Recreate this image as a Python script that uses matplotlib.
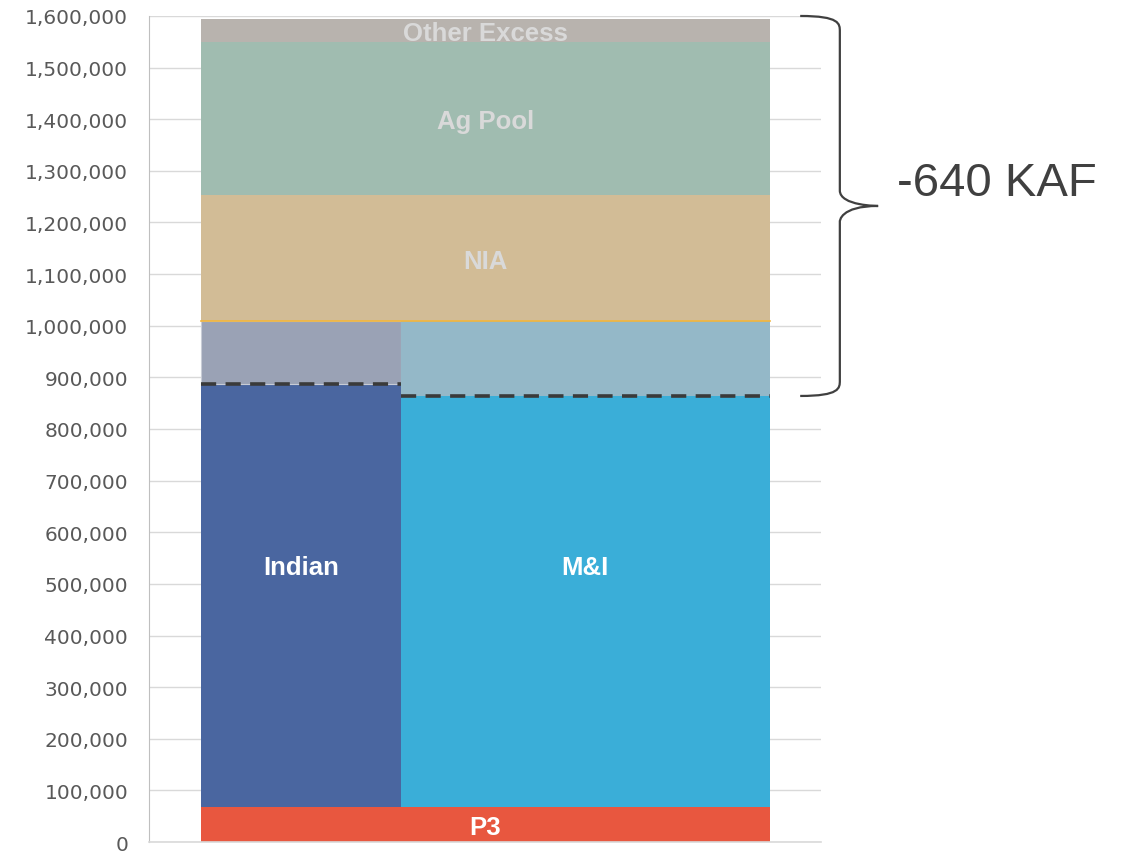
import numpy as np
import matplotlib
matplotlib.use("Agg")
import matplotlib.pyplot as plt
from matplotlib.path import Path
from matplotlib.patches import PathPatch
from matplotlib.ticker import FuncFormatter
import matplotlib.transforms as mtransforms

## data (acre-feet)
p3 = 68000
indian_delivered = 820000     # above P3, up to dashed line
mi_delivered = 796000
demand_top = 1009000          # top of Indian / M&I demand
nia = 244000
ag_pool = 296000
other_excess = 46000
brace_label = '-640 KAF'

# column layout (axes fraction)
x_left, x_split, x_right = 0.0774, 0.375, 0.9234

fig = plt.figure(figsize=(11.27, 8.53), dpi=100)
ax = fig.add_axes([0.1322, 0.0117, 0.5963, 0.9684])
ax.set_xlim(0, 1)
ax.set_ylim(0, 1600000)

w_ind = x_split - x_left
w_mi = x_right - x_split
w_all = x_right - x_left

# P3 across whole bar
ax.bar(x_left, p3, width=w_all, align='edge', color='#E8573F', zorder=2)
# Indian / M&I delivered
ax.bar(x_left, indian_delivered, bottom=p3, width=w_ind, align='edge', color='#4A66A0', zorder=2)
ax.bar(x_split, mi_delivered, bottom=p3, width=w_mi, align='edge', color='#3AAED8', zorder=2)
# shortage parts
ind_top = p3 + indian_delivered
mi_top = p3 + mi_delivered
ax.bar(x_left, demand_top - ind_top, bottom=ind_top, width=w_ind, align='edge',
       color='#9AA2B5', edgecolor='#C8CCD6', linewidth=0.8, zorder=2)
ax.bar(x_split, demand_top - mi_top, bottom=mi_top, width=w_mi, align='edge',
       color='#94B8C8', zorder=2)
# upper pools
ax.bar(x_left, nia, bottom=demand_top, width=w_all, align='edge', color='#D2BC96', zorder=2)
ax.bar(x_left, ag_pool, bottom=demand_top + nia, width=w_all, align='edge', color='#A0BCB0', zorder=2)
ax.bar(x_left, other_excess, bottom=demand_top + nia + ag_pool, width=w_all, align='edge',
       color='#B8B3AE', zorder=2)

# orange edge line and dashed delivery lines
ax.plot([x_left, x_right], [demand_top, demand_top], color='#F2B53C', lw=1.2, zorder=3)
ax.plot([x_left, x_split], [ind_top, ind_top], color='#3A3A3A', lw=2.6,
        linestyle=(0, (4.2, 2.6)), zorder=4)
ax.plot([x_split, x_right], [mi_top, mi_top], color='#3A3A3A', lw=2.6,
        linestyle=(0, (4.2, 2.6)), zorder=4)

# segment labels
lbl = dict(ha='center', va='center_baseline', fontweight='bold', fontsize=18.5,
           family='Liberation Sans', zorder=5)
ax.text((x_left + x_right) / 2, p3 / 2, 'P3', color='white', **lbl)
ax.text((x_left + x_split) / 2, (p3 + demand_top) / 2, 'Indian', color='white', **lbl)
ax.text((x_split + x_right) / 2, (p3 + demand_top) / 2, 'M&I', color='white', **lbl)
ax.text((x_left + x_right) / 2, demand_top + nia / 2, 'NIA', color='#D9D9D9', **lbl)
ax.text((x_left + x_right) / 2, demand_top + nia + ag_pool / 2, 'Ag Pool', color='#D9D9D9', **lbl)
ax.text((x_left + x_right) / 2, demand_top + nia + ag_pool + other_excess / 2,
        'Other Excess', color='#D9D9D9', **lbl)

# axes styling
ax.set_yticks(np.arange(0, 1600001, 100000))
ax.yaxis.set_major_formatter(FuncFormatter(lambda v, p: '{:,.0f}'.format(v)))
ax.tick_params(axis='y', length=0, pad=15, labelsize=14.5, labelcolor='#595959')
ax.set_xticks([])
ax.grid(axis='y', color='#D9D9D9', lw=1, zorder=0)
ax.set_axisbelow(True)
for s in ['top', 'right']:
    ax.spines[s].set_visible(False)
ax.spines['left'].set_color('#BFBFBF')
ax.spines['bottom'].set_color('#D9D9D9')
ax.spines['bottom'].set_linewidth(1.2)

# curly brace on the right
trans = mtransforms.blended_transform_factory(ax.transAxes, ax.transData)
top, bot = 1600000, mi_top
mid = (top + bot) / 2
xa, xb, xt = 0.969, 1.028, 1.085
r = 15000
verts = [(xa, top), (xb, top), (xb, top - r), (xb, top - 2 * r),
         (xb, mid + 2 * r),
         (xb, mid), (xt, mid), (xt, mid),
         (xb, mid), (xb, mid - 2 * r), (xb, mid - 2 * r),
         (xb, bot + 2 * r),
         (xb, bot + r), (xb, bot), (xa, bot)]
codes = [Path.MOVETO, Path.CURVE4, Path.CURVE4, Path.CURVE4,
         Path.LINETO,
         Path.CURVE4, Path.CURVE4, Path.CURVE4,
         Path.CURVE4, Path.CURVE4, Path.CURVE4,
         Path.LINETO,
         Path.CURVE4, Path.CURVE4, Path.CURVE4]
brace = PathPatch(Path(verts, codes), transform=trans, fill=False,
                  edgecolor='#404040', lw=1.6, clip_on=False)
ax.add_patch(brace)
ax.text(1.113, mid + 45000, brace_label, transform=trans, ha='left', va='center',
        fontsize=34, color='#404040', family='Liberation Sans')

fig.savefig('out.png', dpi=100)
